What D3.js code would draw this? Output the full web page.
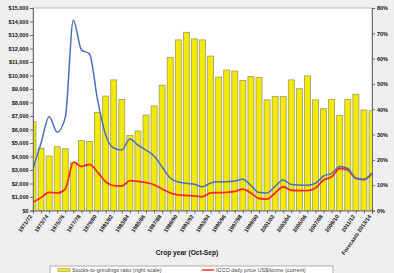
<!DOCTYPE html>
<html><head><meta charset="utf-8">
<script src="https://cdn.jsdelivr.net/npm/d3@7/dist/d3.min.js"></script>
<style>
html,body{margin:0;padding:0;background:#efefef;}
svg{display:block;font-family:"Liberation Sans",Arial,sans-serif;}
</style></head>
<body>
<svg id="c" width="394" height="273"></svg>
<script>
// Crop years 1971/72 .. 2013/14
const seasons = d3.range(1971, 2014).map(y => y + "/" + String((y + 1) % 100).padStart(2, "0"));
const tickLabels = seasons.map((s, i) => i % 2 === 0 ? (i === 42 ? "Forecasts " + s : s) : null);
// Stocks-to-grindings ratio (%), right scale
const stocksRatio = [35.1,24.6,21.5,25.2,24.4,19.0,27.6,27.3,38.8,45.2,51.6,43.9,29.6,31.4,37.7,41.3,49.5,60.5,67.4,70.4,67.8,67.4,61.0,52.7,55.5,55.1,51.4,53.0,52.5,43.7,45.1,45.0,51.6,48.1,53.2,43.7,40.2,43.9,37.5,43.9,45.9,39.7,39.4];
// ICCO daily price US$/tonne (constant)
const priceConstant = [3100,5000,6950,5800,6900,14100,11900,11600,8200,5600,4630,4480,5300,4850,4480,4040,3220,2410,2110,2015,1940,1760,2040,2130,2130,2180,2310,1850,1330,1300,1790,2260,1930,1890,1870,2015,2555,2755,3260,3110,2385,2300,2755];
// ICCO daily price US$/tonne (current)
const priceCurrent = [610,960,1350,1300,1590,3590,3260,3420,2850,2130,1840,1815,2220,2150,2060,1910,1590,1300,1150,1110,1075,1020,1300,1320,1350,1410,1590,1300,890,850,1300,1760,1500,1470,1470,1670,2260,2500,3110,3000,2385,2296,2755];
const leftTicks = d3.range(0, 15001, 1000);
const rightTicks = d3.range(0, 81, 10);
const legendItems = ["Stocks-to-grindings ratio (right scale)", "ICCO daily price US$/tonne (current)"];

const svg = d3.select("#c");
const m = {l: 33, r: 372, t: 8, b: 210.5};
const x = d3.scalePoint().domain(d3.range(seasons.length)).range([m.l, m.r]);
const yL = d3.scaleLinear().domain([0, 15000]).range([m.b, m.t]);
const yR = d3.scaleLinear().domain([0, 80]).range([m.b, m.t]);
const step = x.step();
const bw = step * 0.74;

svg.append("defs").append("clipPath").attr("id", "clip")
  .append("rect").attr("x", m.l).attr("y", m.t).attr("width", m.r - m.l).attr("height", m.b - m.t);

svg.append("rect").attr("x", m.l).attr("y", m.t).attr("width", m.r - m.l).attr("height", m.b - m.t)
  .attr("fill", "#fff").attr("stroke", "#a8a8a8").attr("stroke-width", 0.8);

const g = svg.append("g").attr("clip-path", "url(#clip)");
g.selectAll("rect.bar").data(stocksRatio).join("rect").attr("class", "bar")
  .attr("x", (d, i) => x(i) - bw / 2).attr("width", bw)
  .attr("y", d => yR(d)).attr("height", d => m.b - yR(d))
  .attr("fill", "#f4ea00").attr("stroke", "#9d9a6a").attr("stroke-width", 0.8);

const line = d3.line().x((d, i) => x(i)).curve(d3.curveMonotoneX);
g.append("path").attr("d", line.y(d => yL(d))(priceCurrent))
  .attr("fill", "none").attr("stroke", "#ff2a1a").attr("stroke-width", 1.8);
g.append("path").attr("d", line.y(d => yL(d))(priceConstant))
  .attr("fill", "none").attr("stroke", "#4a6fc2").attr("stroke-width", 1.5);

// Left axis
const axL = svg.append("g").attr("transform", `translate(${m.l},0)`)
  .call(d3.axisLeft(yL).tickValues(leftTicks).tickSize(3).tickFormat(d => "$" + d3.format(",")(d)));
// Right axis
const axR = svg.append("g").attr("transform", `translate(${m.r},0)`)
  .call(d3.axisRight(yR).tickValues(rightTicks).tickSize(3).tickFormat(d => d + "%"));
// Bottom axis
const axB = svg.append("g").attr("transform", `translate(0,${m.b})`)
  .call(d3.axisBottom(x).tickSize(3).tickFormat(i => tickLabels[i] || ""));
[axL, axR, axB].forEach(a => {
  a.select(".domain").attr("stroke", "#555").attr("stroke-width", 0.8);
  a.selectAll(".tick line").attr("stroke", "#555").attr("stroke-width", 0.8);
  a.selectAll("text").attr("font-size", 5.5).attr("font-weight", "bold").attr("fill", "#111")
    .attr("font-family", "Liberation Sans, Arial, sans-serif");
});
axL.selectAll("text").attr("x", -4.5);
axR.selectAll("text").attr("x", 5);
axB.selectAll("text").attr("text-anchor", "end").attr("dy", 0).attr("y", 0)
  .attr("transform", "translate(-1,6) rotate(-55)");

svg.append("text").attr("x", 187).attr("y", 254.5).attr("text-anchor", "middle")
  .attr("font-size", 6.6).attr("font-weight", "bold").attr("fill", "#111").text("Crop year (Oct-Sep)");

// Legend
const lg = svg.append("g");
lg.append("rect").attr("x", 50).attr("y", 266).attr("width", 283).attr("height", 20)
  .attr("fill", "#fff").attr("stroke", "#9a9a9a").attr("stroke-width", 0.8);
lg.append("rect").attr("x", 58).attr("y", 268.5).attr("width", 12).attr("height", 3)
  .attr("fill", "#f4ea00").attr("stroke", "#9d9a6a").attr("stroke-width", 0.6);
lg.append("line").attr("x1", 202).attr("x2", 214).attr("y1", 270).attr("y2", 270)
  .attr("stroke", "#ff2a1a").attr("stroke-width", 1.5);
lg.append("text").attr("x", 72).attr("y", 272).attr("font-size", 5.5).attr("fill", "#444").text(legendItems[0]);
lg.append("text").attr("x", 216).attr("y", 272).attr("font-size", 5.5).attr("fill", "#444").text(legendItems[1]);
</script>
</body></html>
